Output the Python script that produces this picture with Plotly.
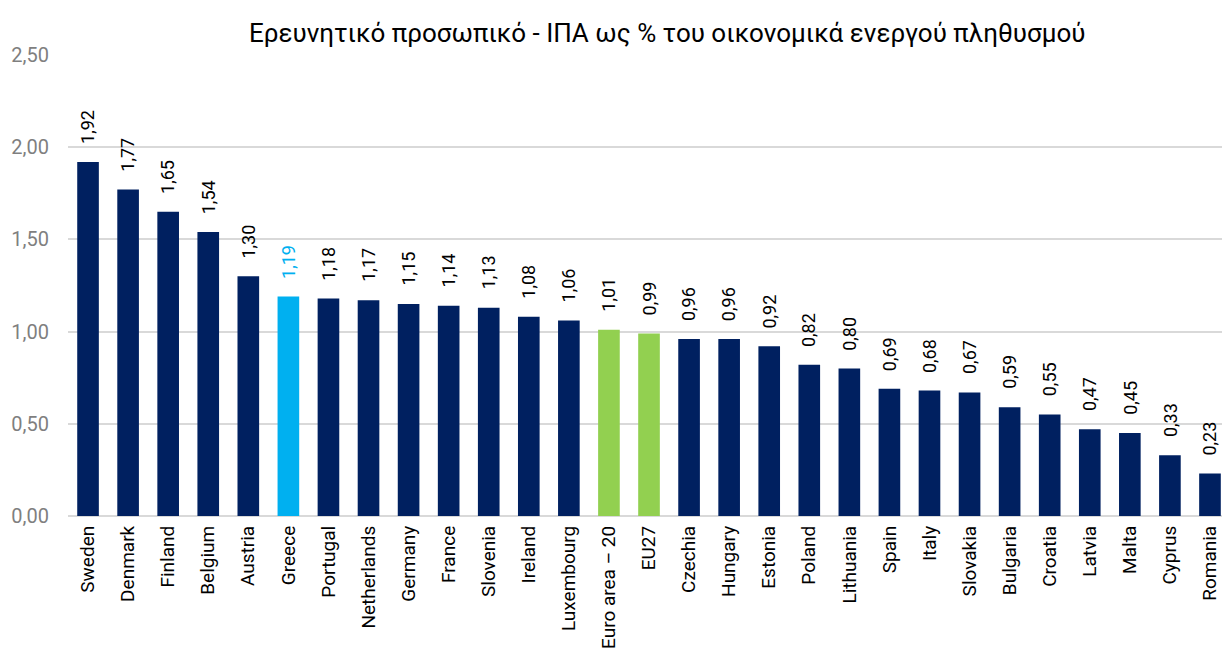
import plotly.graph_objects as go

categories = ["Sweden", "Denmark", "Finland", "Belgium", "Austria", "Greece", "Portugal",
              "Netherlands", "Germany", "France", "Slovenia", "Ireland", "Luxembourg",
              "Euro area – 20", "EU27", "Czechia", "Hungary", "Estonia", "Poland",
              "Lithuania", "Spain", "Italy", "Slovakia", "Bulgaria", "Croatia", "Latvia",
              "Malta", "Cyprus", "Romania"]
values = [1.92, 1.77, 1.65, 1.54, 1.30, 1.19, 1.18, 1.17, 1.15, 1.14, 1.13, 1.08, 1.06,
          1.01, 0.99, 0.96, 0.96, 0.92, 0.82, 0.80, 0.69, 0.68, 0.67, 0.59, 0.55, 0.47,
          0.45, 0.33, 0.23]
title = "Ερευνητικό προσωπικό - ΙΠΑ ως % του οικονομικά ενεργού πληθυσμού"
y_ticks = [0, 0.5, 1.0, 1.5, 2.0, 2.5]

NAVY = "#002060"
BLUE = "#00B0F0"
GREEN = "#92D050"

colors = []
label_colors = []
for c in categories:
    if c == "Greece":
        colors.append(BLUE)
        label_colors.append(BLUE)
    elif c in ("Euro area – 20", "EU27"):
        colors.append(GREEN)
        label_colors.append("#000000")
    else:
        colors.append(NAVY)
        label_colors.append("#000000")

FONT = "Roboto, sans-serif"

fig = go.Figure(go.Bar(
    x=categories,
    y=values,
    marker=dict(color=colors, line=dict(width=0)),
    width=0.54,
))

for c, v, lc in zip(categories, values, label_colors):
    fig.add_annotation(
        x=c, y=v, xref="x", yref="y",
        text=f"{v:.2f}".replace(".", ","),
        textangle=-90, showarrow=False,
        xanchor="center", yanchor="bottom", yshift=16,
        font=dict(family=FONT, size=18, color=lc),
    )

fig.update_layout(
    width=1214, height=648,
    margin=dict(l=60, r=0, t=47, b=140, autoexpand=False),
    paper_bgcolor="white", plot_bgcolor="white",
    separators=",.",
    font=dict(family=FONT),
    title=dict(text=title, x=0.543, xanchor="center", y=0.961, yanchor="middle",
               font=dict(family=FONT, size=26, color="#000000")),
    showlegend=False,
)
fig.update_xaxes(
    range=[-0.5, 28.3],
    tickangle=-90,
    tickfont=dict(family=FONT, size=19, color="#000000"),
    showgrid=False, showline=False, ticks="",
    ticklabelstandoff=5, automargin=False,
)
fig.update_yaxes(
    range=[0, 2.5],
    tickvals=y_ticks,
    tickformat=".2f",
    tickfont=dict(family=FONT, size=20, color="#7f7f7f"),
    showgrid=True, gridcolor="#d9d9d9", gridwidth=2,
    zeroline=True, zerolinecolor="#d9d9d9", zerolinewidth=2,
    ticks="", ticklabelstandoff=18, automargin=False,
)

fig.write_html("out.html")
